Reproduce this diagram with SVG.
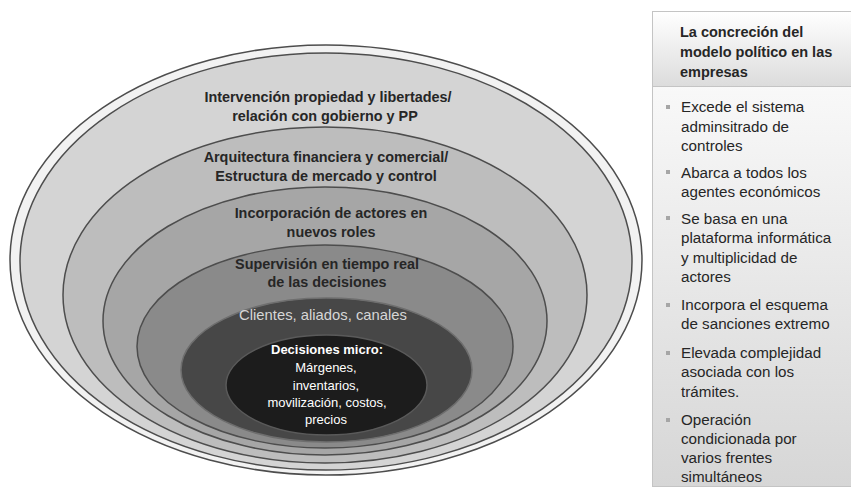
<svg xmlns="http://www.w3.org/2000/svg" width="851" height="492" viewBox="0 0 851 492">
<defs>
<linearGradient id="hdr" x1="0" y1="0" x2="0" y2="1"><stop offset="0" stop-color="#ffffff"/><stop offset="1" stop-color="#dcdcdc"/></linearGradient>
<linearGradient id="body" x1="0" y1="0" x2="0" y2="1"><stop offset="0" stop-color="#ffffff"/><stop offset="1" stop-color="#d6d6d6"/></linearGradient>
</defs>
<style>
.ring{stroke:#4d4d4d;stroke-width:1.5}
.b{font-family:"Liberation Sans",Arial,sans-serif;font-weight:bold;font-size:14.4px;fill:#262626;text-anchor:middle}
.in{font-family:"Liberation Sans",Arial,sans-serif;font-size:13px;fill:#ffffff;text-anchor:middle}
.li{font-family:"Liberation Sans",Arial,sans-serif;font-size:15.2px;fill:#262626}
.hd{font-family:"Liberation Sans",Arial,sans-serif;font-weight:bold;font-size:14.5px;fill:#262626}
.bul{fill:#a6a6a6}
</style>
<rect width="851" height="492" fill="#ffffff"/>
<g id="ellipses">
<g id="outer"><ellipse cx="326" cy="260" rx="316" ry="215" fill="#f2f2f2" class="ring"/></g>
<g id="level1"><ellipse cx="326" cy="261.5" rx="306" ry="208.5" fill="#d4d4d4" class="ring"/>
<text class="b" x="328" y="102">Intervención propiedad y libertades/</text>
<text class="b" x="325" y="120.5">relación con gobierno y PP</text></g>
<g id="level2"><ellipse cx="325" cy="295" rx="262" ry="168" fill="#bdbdbd" class="ring"/>
<text class="b" x="326" y="162">Arquitectura financiera y comercial/</text>
<text class="b" x="326" y="180.5">Estructura de mercado y control</text></g>
<g id="level3"><ellipse cx="325" cy="321" rx="222" ry="134" fill="#a6a6a6" class="ring"/>
<text class="b" x="331" y="218">Incorporación de actores en</text>
<text class="b" x="331" y="236.5">nuevos roles</text></g>
<g id="level4"><ellipse cx="325" cy="346.5" rx="188" ry="101.5" fill="#8a8a8a" class="ring"/>
<text class="b" x="327" y="269">Supervisión en tiempo real</text>
<text class="b" x="327" y="287">de las decisiones</text></g>
<g id="level5"><ellipse cx="326.5" cy="370" rx="145.5" ry="72" fill="#474747" stroke="#6e6e6e" stroke-width="1.5"/>
<text x="323" y="320" style="font-family:'Liberation Sans',Arial,sans-serif;font-size:14.8px;fill:#d6d6d6;text-anchor:middle">Clientes, aliados, canales</text></g>
<g id="level6"><ellipse cx="326.5" cy="385" rx="100.5" ry="50" fill="#1c1c1c" stroke="#5a5a5a" stroke-width="1.5"/>
<text class="in" x="327" y="354" font-weight="bold" font-size="12.5">Decisiones micro:</text>
<text class="in" x="326" y="371.5">Márgenes,</text>
<text class="in" x="326" y="389.5">inventarios,</text>
<text class="in" x="327" y="407">movilización, costos,</text>
<text class="in" x="326" y="423.5">precios</text></g>
</g>
<g id="panel">
<rect x="652.5" y="11.5" width="210" height="475" fill="url(#body)" stroke="#c4c4c4"/>
<rect x="652.5" y="11.5" width="210" height="75" fill="url(#hdr)" stroke="#c4c4c4"/>
<text class="hd" x="680" y="37">La concreción del</text>
<text class="hd" x="680" y="57">modelo político en las</text>
<text class="hd" x="680" y="77">empresas</text>
<rect class="bul" x="666" y="105" width="4" height="4"/>
<text class="li" x="681" y="112">Excede el sistema</text>
<text class="li" x="681" y="131.5">adminsitrado de</text>
<text class="li" x="681" y="151">controles</text>
<rect class="bul" x="666" y="170" width="4" height="4"/>
<text class="li" x="681" y="177.5">Abarca a todos los</text>
<text class="li" x="681" y="197">agentes económicos</text>
<rect class="bul" x="666" y="216" width="4" height="4"/>
<text class="li" x="681" y="223.5">Se basa en una</text>
<text class="li" x="681" y="243">plataforma informática</text>
<text class="li" x="681" y="262.5">y multiplicidad de</text>
<text class="li" x="681" y="282">actores</text>
<rect class="bul" x="666" y="303" width="4" height="4"/>
<text class="li" x="681" y="310">Incorpora el esquema</text>
<text class="li" x="681" y="329">de sanciones extremo</text>
<rect class="bul" x="666" y="351" width="4" height="4"/>
<text class="li" x="681" y="358">Elevada complejidad</text>
<text class="li" x="681" y="377">asociada con los</text>
<text class="li" x="681" y="396.5">trámites.</text>
<rect class="bul" x="666" y="418" width="4" height="4"/>
<text class="li" x="681" y="425">Operación</text>
<text class="li" x="681" y="444">condicionada por</text>
<text class="li" x="681" y="462.5">varios frentes</text>
<text class="li" x="681" y="481.5">simultáneos</text>
</g>
</svg>
